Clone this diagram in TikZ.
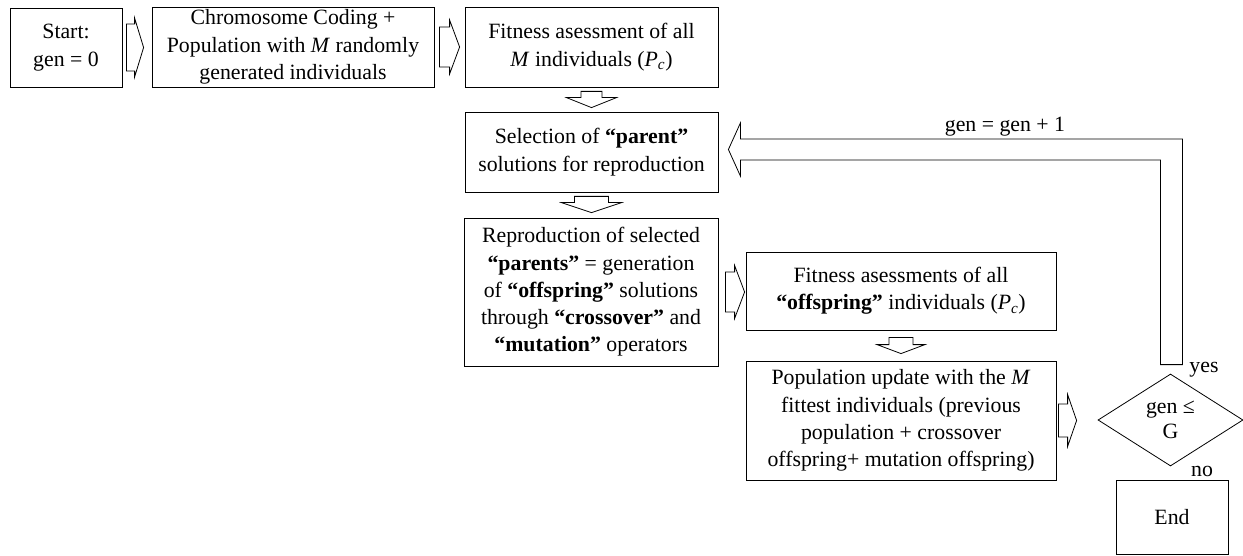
\documentclass[tikz,border=0pt]{standalone}
\usepackage{fontspec}
\setmainfont{Liberation Serif}
\usetikzlibrary{shapes.geometric,calc}
\tikzset{
  box/.style={draw, line width=0.8pt, rectangle, inner sep=0pt, align=center, font=\fontsize{21.8}{27.3}\selectfont},
  dec/.style={draw, line width=0.8pt, diamond, inner sep=0pt, align=center, aspect=1.58, font=\fontsize{21.8}{25}\selectfont},
  blk/.style={draw, line width=0.8pt, line join=miter},
  lbl/.style={inner sep=0pt, font=\fontsize{21.8}{27}\selectfont},
}
\newcommand\BlkRight[7]{%
  \draw[blk] let \p1=($(#1)+(#3,0)$), \p2=($(#2)+(-#4,0)$) in
  (\x1,\y1+#5pt) -- (\x2-#7pt,\y1+#5pt) -- (\x2-#7pt,\y1+#6pt) -- (\x2,\y1)
  -- (\x2-#7pt,\y1-#6pt) -- (\x2-#7pt,\y1-#5pt) -- (\x1,\y1-#5pt) -- cycle;}
\newcommand\BlkDown[7]{%
  \draw[blk] let \p1=($(#1)+(0,#3)$), \p2=($(#2)+(0,-#4)$) in
  (\x1-#5pt,\y1) -- (\x1-#5pt,\y2+#7pt) -- (\x1-#6pt,\y2+#7pt) -- (\x1,\y2)
  -- (\x1+#6pt,\y2+#7pt) -- (\x1+#5pt,\y2+#7pt) -- (\x1+#5pt,\y1) -- cycle;}
\begin{document}
\begin{tikzpicture}[x=1pt,y=-1pt]
\useasboundingbox (0,0) rectangle (1243,556);
\node[box, minimum width=112, minimum height=79] (start) at (66,47.5) {Start:\\gen = 0};
\node[box, minimum width=282, minimum height=80] (chromo) at (293,47) {Chromosome Coding +\\Population with \textit{M} randomly\\generated individuals};
\node[box, minimum width=253, minimum height=80] (fit) at (591.5,47) {Fitness asessment of all\\\textit{M} individuals (\textit{P\textsubscript{c}})};
\node[box, minimum width=253, minimum height=80] (sel) at (591.5,152) {Selection of \textbf{“parent”}\\solutions for reproduction};
\node[box, minimum width=254, minimum height=148] (repro) at (591,292) {Reproduction of selected\\\textbf{“parents”} = generation\\of \textbf{“offspring”} solutions\\through \textbf{“crossover”} and\\\textbf{“mutation”} operators};
\node[box, minimum width=310, minimum height=78] (fitoff) at (901,291) {Fitness asessments of all\\\textbf{“offspring”} individuals (\textit{P\textsubscript{c}})};
\node[box, minimum width=310, minimum height=119] (pop) at (901,420.5) {Population update with the \textit{M}\\fittest individuals (previous\\population + crossover\\offspring+ mutation offspring)};
\node[dec, minimum width=145, minimum height=92] (dia) at (1170.5,420) {gen ≤\\G};
\node[box, minimum width=112, minimum height=74] (end) at (1172,517) {End};

\BlkRight{start.east}{chromo.west}{4}{8}{23.5}{29.5}{9}
\BlkRight{chromo.east}{fit.west}{5}{5}{20}{27}{10}
\BlkRight{repro.east}{fitoff.west}{7}{1}{20}{26.5}{10}
\BlkRight{pop.east}{dia.west}{2}{21}{16.5}{26}{9}
\BlkDown{fit.south}{sel.north}{4}{4}{10.5}{25}{10}
\BlkDown{sel.south}{repro.north}{4}{5}{17}{30}{10}
\BlkDown{fitoff.south}{pop.north}{7}{7}{12}{24}{9}

\draw[blk] let \p1=($(dia.north)+(1,-9)$), \p2=($(sel.east)+(10,-2.5)$) in
  (\x1-11pt,\y1) -- (\x1-11pt,\y2-10.5pt) -- (\x2+12pt,\y2-10.5pt) -- (\x2+12pt,\y2-26.5pt)
  -- (\x2,\y2) -- (\x2+12pt,\y2+26.5pt) -- (\x2+12pt,\y2+10.5pt) -- (\x1+11pt,\y2+10.5pt)
  -- (\x1+11pt,\y1) -- cycle;

\node[lbl] (inc) at (1005,127) {gen = gen + 1};
\node[lbl] (yes) at (1204,370) {yes};
\node[lbl] (no) at (1202,471) {no};
\end{tikzpicture}
\end{document}
